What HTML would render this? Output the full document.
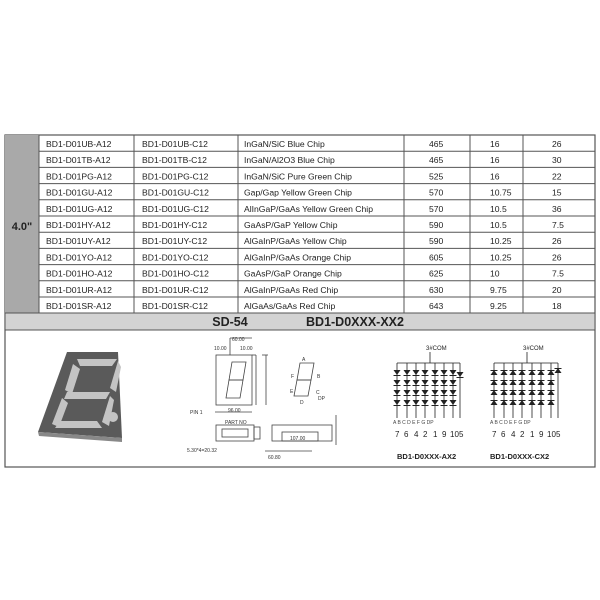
<!DOCTYPE html>
<html><head><style>
body{margin:0;background:#fff;}
svg{display:block;font-family:"Liberation Sans",Arial,sans-serif;}
</style></head><body>
<svg width="600" height="600" viewBox="0 0 600 600">
<rect x="5" y="135" width="590" height="332" fill="#fff" stroke="#555" stroke-width="1.2"/>
<rect x="5" y="135" width="34" height="178" fill="#a9a9a9"/>
<text x="22" y="230" font-size="11" font-weight="bold" text-anchor="middle" fill="#222">4.0"</text>
<g stroke="#555" stroke-width="1">
<line x1="39" y1="135" x2="39" y2="313"/><line x1="134" y1="135" x2="134" y2="313"/>
<line x1="238" y1="135" x2="238" y2="313"/><line x1="404" y1="135" x2="404" y2="313"/>
<line x1="470" y1="135" x2="470" y2="313"/><line x1="523" y1="135" x2="523" y2="313"/>
<line x1="39" y1="151.2" x2="595" y2="151.2"/><line x1="39" y1="167.4" x2="595" y2="167.4"/>
<line x1="39" y1="183.6" x2="595" y2="183.6"/><line x1="39" y1="199.8" x2="595" y2="199.8"/>
<line x1="39" y1="216" x2="595" y2="216"/><line x1="39" y1="232.2" x2="595" y2="232.2"/>
<line x1="39" y1="248.4" x2="595" y2="248.4"/><line x1="39" y1="264.6" x2="595" y2="264.6"/>
<line x1="39" y1="280.8" x2="595" y2="280.8"/><line x1="39" y1="297" x2="595" y2="297"/>
</g>
<rect x="5" y="313" width="590" height="17" fill="#d3d3d3" stroke="#555" stroke-width="1"/>
<text x="230" y="326" font-size="12.5" font-weight="bold" text-anchor="middle" fill="#222">SD-54</text>
<text x="355" y="326" font-size="12.5" font-weight="bold" text-anchor="middle" fill="#222">BD1-D0XXX-XX2</text>
<g font-size="8.6" fill="#222">
<g transform="translate(0,147)"><text x="46">BD1-D01UB-A12</text><text x="142">BD1-D01UB-C12</text><text x="244">InGaN/SiC  Blue Chip</text><text x="429">465</text><text x="490">16</text><text x="552">26</text></g>
<g transform="translate(0,163.2)"><text x="46">BD1-D01TB-A12</text><text x="142">BD1-D01TB-C12</text><text x="244">InGaN/Al2O3 Blue Chip</text><text x="429">465</text><text x="490">16</text><text x="552">30</text></g>
<g transform="translate(0,179.4)"><text x="46">BD1-D01PG-A12</text><text x="142">BD1-D01PG-C12</text><text x="244">InGaN/SiC Pure Green Chip</text><text x="429">525</text><text x="490">16</text><text x="552">22</text></g>
<g transform="translate(0,195.6)"><text x="46">BD1-D01GU-A12</text><text x="142">BD1-D01GU-C12</text><text x="244">Gap/Gap Yellow Green  Chip</text><text x="429">570</text><text x="490">10.75</text><text x="552">15</text></g>
<g transform="translate(0,211.8)"><text x="46">BD1-D01UG-A12</text><text x="142">BD1-D01UG-C12</text><text x="244">AlInGaP/GaAs Yellow Green Chip</text><text x="429">570</text><text x="490">10.5</text><text x="552">36</text></g>
<g transform="translate(0,228)"><text x="46">BD1-D01HY-A12</text><text x="142">BD1-D01HY-C12</text><text x="244">GaAsP/GaP Yellow  Chip</text><text x="429">590</text><text x="490">10.5</text><text x="552">7.5</text></g>
<g transform="translate(0,244.2)"><text x="46">BD1-D01UY-A12</text><text x="142">BD1-D01UY-C12</text><text x="244">AlGaInP/GaAs Yellow  Chip</text><text x="429">590</text><text x="490">10.25</text><text x="552">26</text></g>
<g transform="translate(0,260.4)"><text x="46">BD1-D01YO-A12</text><text x="142">BD1-D01YO-C12</text><text x="244">AlGaInP/GaAs Orange  Chip</text><text x="429">605</text><text x="490">10.25</text><text x="552">26</text></g>
<g transform="translate(0,276.6)"><text x="46">BD1-D01HO-A12</text><text x="142">BD1-D01HO-C12</text><text x="244">GaAsP/GaP Orange  Chip</text><text x="429">625</text><text x="490">10</text><text x="552">7.5</text></g>
<g transform="translate(0,292.8)"><text x="46">BD1-D01UR-A12</text><text x="142">BD1-D01UR-C12</text><text x="244">AlGaInP/GaAs Red  Chip</text><text x="429">630</text><text x="490">9.75</text><text x="552">20</text></g>
<g transform="translate(0,309)"><text x="46">BD1-D01SR-A12</text><text x="142">BD1-D01SR-C12</text><text x="244">AlGaAs/GaAs Red Chip</text><text x="429">643</text><text x="490">9.25</text><text x="552">18</text></g>
</g>
<!-- photo -->
<polygon points="67,352 118,352 122,438 38,432" fill="#5a5a5a"/>
<polygon points="38,432 122,438 122,442 39,436" fill="#888"/>
<g fill="#c4c4c4">
<polygon points="77,359 117,359 112,366 80,366"/>
<polygon points="73,364 80,369 72,394 65,390"/>
<polygon points="118,361 121,367 116,392 110,388"/>
<polygon points="67,392 110,392 106,399 64,399"/>
<polygon points="62,398 68,403 59,427 52,424"/>
<polygon points="110,396 114,400 109,426 102,422"/>
<polygon points="55,428 102,428 97,421 60,421"/>
<circle cx="113" cy="417" r="5"/>
</g>
<!-- drawing -->
<g stroke="#444" fill="none" stroke-width="0.8">
<rect x="216" y="355" width="36" height="50"/>
<polygon points="232,362 246,362 243,380 229,380"/><polygon points="229,380 243,380 240,398 226,398"/>
<line x1="252" y1="355" x2="256" y2="355"/><line x1="256" y1="355" x2="256" y2="405"/>
<line x1="262" y1="355" x2="268" y2="355"/><line x1="266" y1="355" x2="266" y2="405"/>
<line x1="215" y1="412" x2="252" y2="412"/>
<line x1="230" y1="338" x2="252" y2="338"/><line x1="230" y1="338" x2="230" y2="355"/>
<polygon points="300,363 314,363 311,380 297,380"/><polygon points="297,380 311,380 308,396 294,396"/>
<rect x="216" y="425" width="38" height="16"/><rect x="222" y="429" width="26" height="8"/>
<rect x="254" y="427" width="6" height="12"/>
<rect x="272" y="425" width="60" height="16"/><rect x="282" y="432" width="36" height="9"/>
<line x1="336" y1="415" x2="336" y2="445"/>
<line x1="265" y1="451" x2="312" y2="451"/>
</g>
<g font-size="5" fill="#333">
<text x="232" y="341">60.00</text><text x="214" y="350">10.00</text><text x="240" y="350">10.00</text>
<text x="190" y="414">PIN  1</text><text x="228" y="412">96.00</text><text x="225" y="424">PART  NO</text>
<text x="187" y="452">5.30*4=20.32</text><text x="290" y="440">107.00</text><text x="268" y="459">60.80</text>
<text x="302" y="361">A</text><text x="291" y="378">F</text><text x="317" y="378">B</text><text x="290" y="393">E</text><text x="316" y="394">C</text><text x="300" y="404">D</text><text x="318" y="400">DP</text>
</g>
<!-- circuits -->
<g stroke="#222" stroke-width="0.8" fill="#222">
<line x1="397" y1="363" x2="460" y2="363"/><line x1="430" y1="352" x2="430" y2="363"/>
<line x1="494" y1="363" x2="558" y2="363"/><line x1="527" y1="352" x2="527" y2="363"/>
</g>
<g font-size="6" fill="#222"><text x="426" y="350">3#COM</text><text x="523" y="350">3#COM</text></g>
<g stroke="#222" stroke-width="0.8">
<line x1="397" y1="363" x2="397" y2="418"/><line x1="407" y1="363" x2="407" y2="418"/><line x1="416" y1="363" x2="416" y2="418"/><line x1="425" y1="363" x2="425" y2="418"/><line x1="435" y1="363" x2="435" y2="418"/><line x1="444" y1="363" x2="444" y2="418"/><line x1="453" y1="363" x2="453" y2="418"/><line x1="460" y1="363" x2="460" y2="418"/>
<line x1="494" y1="363" x2="494" y2="418"/><line x1="504" y1="363" x2="504" y2="418"/><line x1="513" y1="363" x2="513" y2="418"/><line x1="522" y1="363" x2="522" y2="418"/><line x1="532" y1="363" x2="532" y2="418"/><line x1="541" y1="363" x2="541" y2="418"/><line x1="551" y1="363" x2="551" y2="418"/><line x1="558" y1="363" x2="558" y2="418"/>
</g>
<g fill="#222">
<defs>
<g id="dn"><polygon points="-3.5,0 3.5,0 0,5"/><rect x="-3.5" y="5" width="7" height="1"/></g>
<g id="up"><polygon points="-3.5,5 3.5,5 0,0"/><rect x="-3.5" y="0" width="7" height="1"/></g>
<g id="col4"><use href="#dn" y="370"/><use href="#dn" y="380"/><use href="#dn" y="390"/><use href="#dn" y="400"/></g>
<g id="col4u"><use href="#up" y="370"/><use href="#up" y="380"/><use href="#up" y="390"/><use href="#up" y="400"/></g>
</defs>
<use href="#col4" x="397"/><use href="#col4" x="407"/><use href="#col4" x="416"/><use href="#col4" x="425"/><use href="#col4" x="435"/><use href="#col4" x="444"/><use href="#col4" x="453"/><use href="#dn" x="460" y="372"/>
<use href="#col4u" x="494"/><use href="#col4u" x="504"/><use href="#col4u" x="513"/><use href="#col4u" x="522"/><use href="#col4u" x="532"/><use href="#col4u" x="541"/><use href="#col4u" x="551"/><use href="#up" x="558" y="368"/>
</g>
<g font-size="5" fill="#444"><text x="393" y="424">A   B   C   D   E   F   G   DP</text><text x="490" y="424">A   B   C   D   E   F   G   DP</text></g>
<g font-size="8" fill="#222">
<text x="395" y="437">7</text><text x="404" y="437">6</text><text x="414" y="437">4</text><text x="423" y="437">2</text><text x="433" y="437">1</text><text x="442" y="437">9</text><text x="450" y="437">10</text><text x="459" y="437">5</text>
<text x="492" y="437">7</text><text x="501" y="437">6</text><text x="511" y="437">4</text><text x="520" y="437">2</text><text x="530" y="437">1</text><text x="539" y="437">9</text><text x="547" y="437">10</text><text x="556" y="437">5</text>
</g>
<g font-size="7.5" font-weight="bold" fill="#222"><text x="397" y="459">BD1-D0XXX-AX2</text><text x="490" y="459">BD1-D0XXX-CX2</text></g>
</svg>
</body></html>
